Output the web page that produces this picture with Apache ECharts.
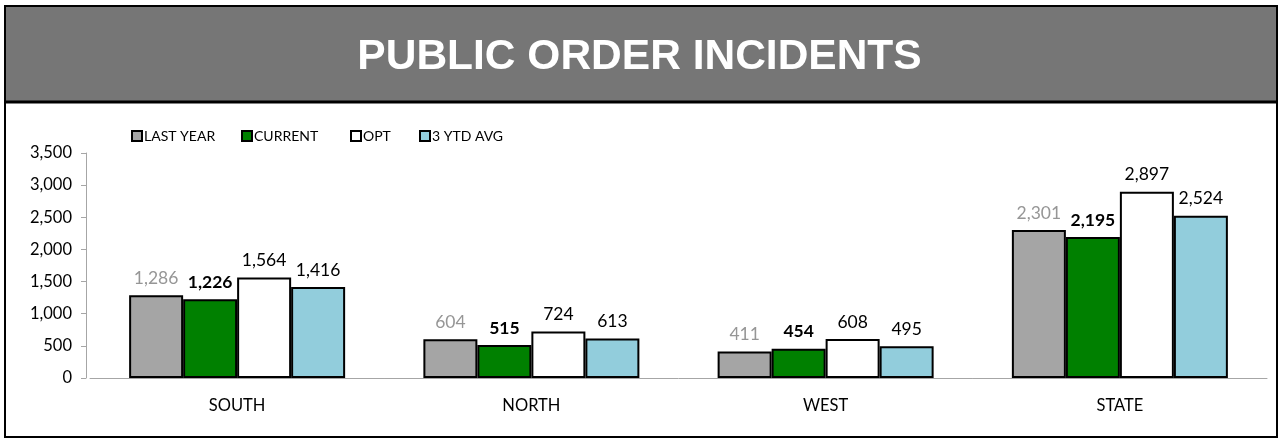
<!DOCTYPE html>
<html>
<head>
<meta charset="utf-8">
<script src="https://cdn.jsdelivr.net/npm/echarts@6/dist/echarts.min.js"></script>
<style>
html,body{margin:0;padding:0;background:#fff;}
#chart{width:1279px;height:439px;}
</style>
</head>
<body>
<div id="chart"></div>
<script>
const titleText = 'PUBLIC ORDER INCIDENTS';
const categories = ['SOUTH', 'NORTH', 'WEST', 'STATE'];
const seriesNames = ['LAST YEAR', 'CURRENT', 'OPT', '3 YTD AVG'];
const lastYear = [1286, 604, 411, 2301];
const current = [1226, 515, 454, 2195];
const opt = [1564, 724, 608, 2897];
const ytdAvg = [1416, 613, 495, 2524];
const yTicks = { min: 0, max: 3500, interval: 500 };

const colors = ['#A5A5A5', '#008000', '#FFFFFF', '#92CDDC'];
const labelStyles = [
  { color: '#969696', fontWeight: 'normal' },
  { color: '#000000', fontWeight: 'bold' },
  { color: '#000000', fontWeight: 'normal' },
  { color: '#000000', fontWeight: 'normal' }
];
const legendLefts = [131, 241, 350, 419];
const dataSets = [lastYear, current, opt, ytdAvg];
const FONT = 'Lato';

const chart = echarts.init(document.getElementById('chart'), null, { renderer: 'canvas' });
chart.setOption({
  animation: false,
  backgroundColor: '#ffffff',
  graphic: [
    { type: 'rect', z: 0, shape: { x: 5, y: 6, width: 1272, height: 95 }, style: { fill: '#767676' } },
    { type: 'line', z: 1, shape: { x1: 5, y1: 102, x2: 1277, y2: 102 }, style: { stroke: '#000', lineWidth: 3 } },
    { type: 'rect', z: 1, shape: { x: 5, y: 6, width: 1272, height: 431 }, style: { fill: 'none', stroke: '#000', lineWidth: 2 } },
    { type: 'text', z: 2, left: 'center', top: 36,
      style: { text: titleText, fill: '#ffffff', font: 'bold 42.5px "Liberation Sans", Arial, sans-serif' } }
  ],
  legend: seriesNames.map((n, i) => ({
    left: legendLefts[i], top: 129,
    padding: 0,
    itemWidth: 10, itemHeight: 10,
    icon: 'rect',
    textStyle: { fontFamily: FONT, fontSize: 14, color: '#000', padding: [0, 0, 0, -3] },
    data: [n]
  })),
  grid: { left: 90, right: 12, top: 153, bottom: 61, containLabel: false },
  xAxis: {
    type: 'category',
    data: categories,
    axisLine: { lineStyle: { color: '#A6A6A6', width: 1 } },
    axisTick: { show: false },
    axisLabel: { fontFamily: FONT, fontSize: 16.5, color: '#000', margin: 19 }
  },
  yAxis: {
    type: 'value',
    offset: 4,
    min: yTicks.min, max: yTicks.max, interval: yTicks.interval,
    axisLine: { show: true, lineStyle: { color: '#A6A6A6' } },
    axisTick: { show: true, length: 5, lineStyle: { color: '#A6A6A6' } },
    splitLine: { show: false },
    axisLabel: {
      fontFamily: FONT, fontSize: 16.5, color: '#000', margin: 14,
      formatter: v => v.toLocaleString('en-US')
    }
  },
  series: seriesNames.map((name, i) => ({
    name,
    type: 'bar',
    data: dataSets[i],
    barWidth: 54,
    barGap: '0%',
    itemStyle: { color: colors[i], borderColor: '#000', borderWidth: 2 },
    label: {
      show: true, position: 'top', distance: 8,
      fontFamily: FONT, fontSize: 17.5,
      color: labelStyles[i].color, fontWeight: labelStyles[i].fontWeight,
      formatter: p => p.value.toLocaleString('en-US')
    }
  }))
});
</script>
</body>
</html>
